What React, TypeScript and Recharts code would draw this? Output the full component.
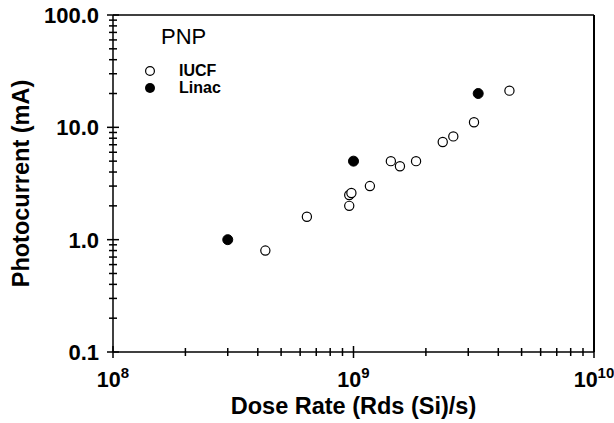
import React from 'react'
import { ScatterChart, Scatter, XAxis, YAxis, ReferenceLine, Legend } from 'recharts'

// dose rate (Rds(Si)/s) vs photocurrent (mA)
const iucfDose = [4.3e8, 6.4e8, 9.6e8, 9.6e8, 9.8e8, 1.17e9, 1.43e9, 1.56e9, 1.82e9, 2.35e9, 2.6e9, 3.17e9, 4.45e9]
const iucfCurrent = [0.8, 1.6, 2.0, 2.5, 2.6, 3.0, 5.0, 4.5, 5.0, 7.4, 8.3, 11.1, 21.2]
const linacDose = [3.0e8, 1.0e9, 3.3e9]
const linacCurrent = [1.0, 5.0, 20.0]

const xDecades = [1e8, 1e9, 1e10]
const yDecades = [0.1, 1, 10, 100]
const minorSteps = [1, 2, 3, 4, 5, 6, 7, 8, 9]

const seriesNames = ['IUCF', 'Linac']
const groupTitle = 'PNP'

const withMinors = (decades: number[]) =>
  decades.slice(0, -1).flatMap(d => minorSteps.map(m => d * m)).concat(decades[decades.length - 1])

const xTicks = withMinors(xDecades)
const yTicks = withMinors(yDecades)

const iucf = iucfDose.map((x, i) => ({ x, y: iucfCurrent[i] }))
const linac = linacDose.map((x, i) => ({ x, y: linacCurrent[i] }))

const FONT = 'Arial, "Liberation Sans", sans-serif'

const isMajor = (v: number, list: number[]) => list.some(d => Math.abs(v - d) < d * 1e-6)

// element ticks lost their lines, so render functions it is
const renderXTick = (props: any) => {
  const x = Number(props.x)
  const y = Number(props.y)
  const v = props.payload.value
  const major = isMajor(v, xDecades)
  const len = major ? 6 : 4
  return (
    <g key={`xt-${v}`}>
      <path d={`M${x},${y - len}V${y + len}`} stroke="#000" strokeWidth={1.5} fill="none" />
      {major && (
        <text x={x} y={y + 35} textAnchor="middle" fontFamily={FONT} fontWeight="bold" fontSize={21.5} fill="#000">
          10<tspan dy={-9} fontSize={15}>{Math.round(Math.log10(v))}</tspan>
        </text>
      )}
    </g>
  )
}

const renderYTick = (props: any) => {
  const x = Number(props.x)
  const y = Number(props.y)
  const v = props.payload.value
  const major = isMajor(v, yDecades)
  const len = major ? 6 : 4
  return (
    <g key={`yt-${v}`}>
      <path d={`M${x - len},${y}H${x + len}`} stroke="#000" strokeWidth={1.5} fill="none" />
      {major && (
        <text x={x - 14} y={y} dy="0.36em" textAnchor="end" fontFamily={FONT} fontWeight="bold" fontSize={22} fill="#000">
          {v.toFixed(1)}
        </text>
      )}
    </g>
  )
}

const OpenDot = (p: any) => <circle cx={p.cx} cy={p.cy} r={4.6} fill="#fff" stroke="#000" strokeWidth={1.2} />
const FilledDot = (p: any) => <circle cx={p.cx} cy={p.cy} r={5} fill="#000" stroke="#000" />

const LegendBox = () => (
  <svg width={130} height={80} style={{ display: 'block' }}>
    <text x={21} y={24} fontFamily={FONT} fontSize={22} fill="#000">{groupTitle}</text>
    <circle cx={10} cy={51} r={4.4} fill="#fff" stroke="#000" strokeWidth={1.2} />
    <text x={39} y={56} fontFamily={FONT} fontWeight="bold" fontSize={16} fill="#000">{seriesNames[0]}</text>
    <circle cx={10} cy={68} r={5} fill="#000" />
    <text x={39} y={73} fontFamily={FONT} fontWeight="bold" fontSize={16} fill="#000">{seriesNames[1]}</text>
  </svg>
)

const YTitle = (props: any) => {
  const vb = props.viewBox || { x: 0, y: 15, width: 113, height: 337 }
  const cy = vb.y + vb.height / 2
  return (
    <text
      transform={`translate(${vb.x + 29},${cy}) rotate(-90)`}
      textAnchor="middle"
      fontFamily={FONT}
      fontWeight="bold"
      fontSize={23.5}
      fill="#000"
    >
      Photocurrent (mA)
    </text>
  )
}

export default function App() {
  return (
    <div style={{ position: 'absolute', left: 0, top: 0, background: '#fff' }}>
      <ScatterChart width={614} height={423} margin={{ top: 15, right: 20, bottom: 0, left: 0 }}>
        <XAxis
          dataKey="x"
          type="number"
          scale="log"
          domain={[1e8, 1e10]}
          allowDataOverflow
          ticks={xTicks}
          interval={0}
          tick={renderXTick}
          tickLine={false}
          tickSize={0}
          tickMargin={0}
          height={71}
          axisLine={{ stroke: '#000', strokeWidth: 1.5 }}
          label={{
            value: 'Dose Rate (Rds (Si)/s)',
            position: 'insideBottom',
            offset: 9,
            style: { fontFamily: FONT, fontWeight: 'bold', fontSize: 23.5, fill: '#000' },
          }}
        />
        <YAxis
          dataKey="y"
          type="number"
          scale="log"
          domain={[0.1, 100]}
          allowDataOverflow
          ticks={yTicks}
          interval={0}
          tick={renderYTick}
          tickLine={false}
          tickSize={0}
          tickMargin={0}
          width={113}
          axisLine={{ stroke: '#000', strokeWidth: 1.5 }}
          label={{ content: YTitle }}
        />
        <ReferenceLine y={100} stroke="#000" strokeWidth={1.5} />
        <ReferenceLine x={1e10} stroke="#000" strokeWidth={2} />
        <Legend
          layout="vertical"
          align="center"
          verticalAlign="middle"
          wrapperStyle={{ top: 20, left: 140, width: 130 }}
          content={<LegendBox />}
        />
        <Scatter name={seriesNames[0]} data={iucf} shape={<OpenDot />} isAnimationActive={false} />
        <Scatter name={seriesNames[1]} data={linac} shape={<FilledDot />} isAnimationActive={false} />
      </ScatterChart>
    </div>
  )
}
